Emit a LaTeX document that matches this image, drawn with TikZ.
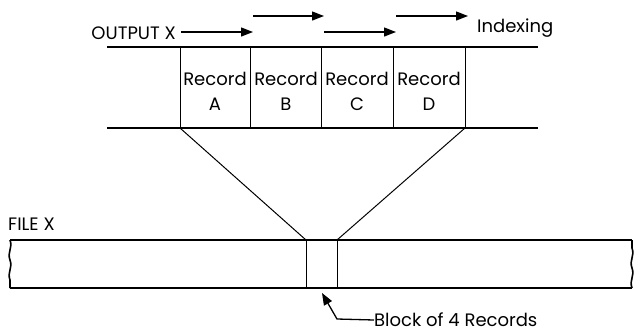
\documentclass[tikz,border=0pt]{standalone}
\usepackage{fontspec}
\setmainfont{Poppins}
\usetikzlibrary{arrows.meta}
\tikzset{
  lbl/.style={inner sep=0pt, font=\fontsize{18}{20}\selectfont},
  tape/.style={line width=1.6pt},
  thin/.style={line width=1pt},
  idx/.style={line width=1.3pt, -{Triangle[length=12pt,width=9pt]}},
}
\begin{document}
\begin{tikzpicture}[x=1pt,y=-1pt]
\useasboundingbox (0,0) rectangle (635,333);
% output tape
\coordinate (tl) at (107,47);
\coordinate (tr) at (538,47);
\coordinate (bl) at (107,128);
\coordinate (br) at (538,128);
\draw[tape] (tl) -- (tr);
\draw[tape] (bl) -- (br);
\foreach \n/\x in {0/180,1/250,2/321,3/393,4/465}{
  \coordinate (dt\n) at (\x,47);
  \coordinate (db\n) at (\x,128);
  \draw[thin] (dt\n) -- (db\n);
}
\node[lbl] (ra) at (215,79) {Record};
\node[lbl] (la) at (215,104) {A};
\node[lbl] (rb) at (286,79) {Record};
\node[lbl] (lb) at (286,104) {B};
\node[lbl] (rc) at (357,79) {Record};
\node[lbl] (lc) at (357,104) {C};
\node[lbl] (rd) at (429,79) {Record};
\node[lbl] (ld) at (429,104) {D};
% labels and indexing arrows
\node[lbl, anchor=east] (out) at (176,33) {OUTPUT X};
\node[lbl, anchor=west] (ix) at (477,28) {Indexing};
\coordinate (a0) at (181,32);
\coordinate (a1) at (253,32);
\coordinate (b0) at (253,16);
\coordinate (b1) at (324,16);
\coordinate (c0) at (324,32);
\coordinate (c1) at (396,32);
\coordinate (d0) at (396,16);
\coordinate (d1) at (468,16);
\draw[idx] (a0) -- (a1);
\draw[idx] (b0) -- (b1);
\draw[idx] (c0) -- (c1);
\draw[idx] (d0) -- (d1);
% file strip
\coordinate (ft) at (306,240);
\coordinate (fb) at (306,288);
\coordinate (gt) at (337,240);
\coordinate (gb) at (337,288);
\draw[thin] (db0) -- (ft);
\draw[thin] (db4) -- (gt);
\draw[tape] (10,240) -- (632,240);
\draw[tape] (10,288) -- (632,288);
\draw[tape] (10,240) .. controls (13,248) and (7,252) .. (10,260)
                     .. controls (13,268) and (7,272) .. (10,280) -- (10,288);
\draw[tape] (632,240) -- (632,248) .. controls (635,256) and (629,260) .. (632,268)
                     .. controls (635,276) and (629,280) .. (632,288);
\draw[thin] (ft) -- (fb);
\draw[thin] (gt) -- (gb);
\node[lbl, anchor=west] (file) at (8,224) {FILE X};
% block pointer
\node[lbl, anchor=west] (blk) at (374,320) {Block of 4 Records};
\coordinate (p0) at (337,319);
\coordinate (p1) at (322,293);
\draw[line width=1.3pt, -{Triangle[length=12pt,width=9pt]}] (blk.west) -- (p0) -- (p1);
\end{tikzpicture}
\end{document}
